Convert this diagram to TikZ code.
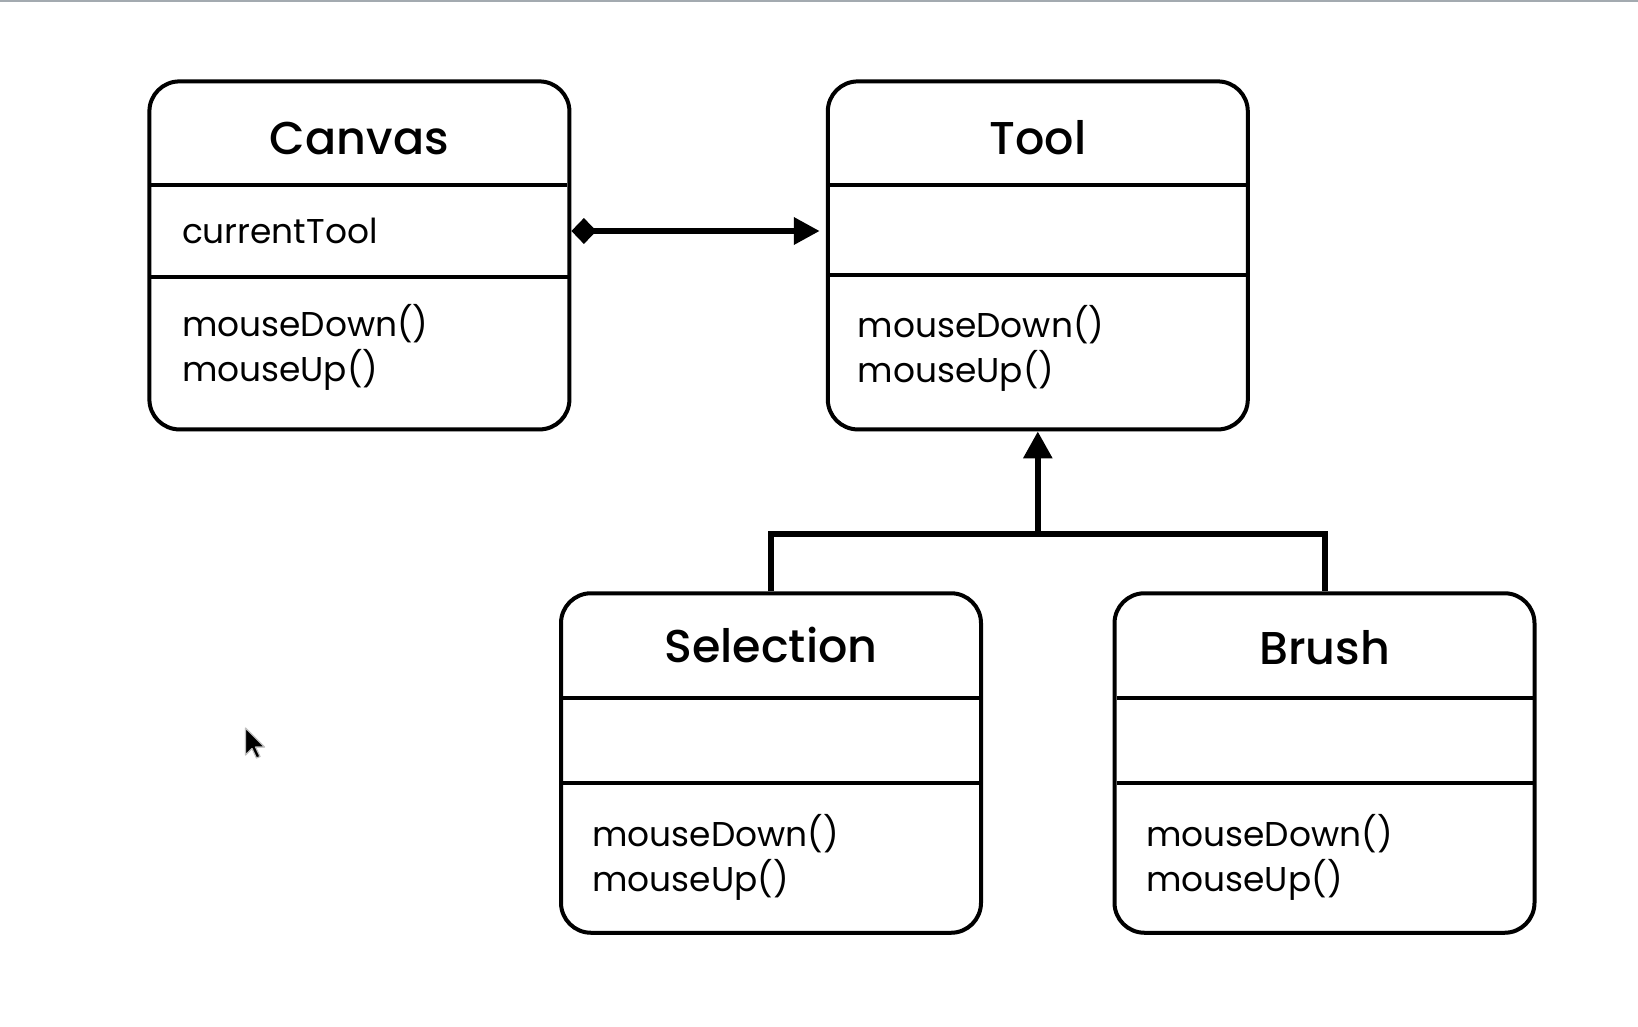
\documentclass[tikz,border=0pt]{standalone}
\usepackage{fontspec}
\setmainfont{Poppins}
\newfontfamily\titlefont{Poppins Medium}
\usetikzlibrary{arrows.meta,shadows}
\tikzset{
  umlbox/.style={draw=black, line width=4pt, rounded corners=30pt, fill=white,
    minimum width=420pt, inner sep=0pt,
    drop shadow={shadow xshift=1.2pt, shadow yshift=-1.8pt, opacity=0.3, fill=black}},
  sepline/.style={line width=3.6pt, draw=black},
  titletext/.style={font=\titlefont\fontsize{46pt}{50pt}\selectfont, inner sep=0pt, anchor=base},
  membertext/.style={font=\fontsize{34.4pt}{45pt}\selectfont, inner sep=0pt, anchor=west, align=left},
  conn/.style={line width=6.5pt, draw=black},
}
\begin{document}
\begin{tikzpicture}[x=1pt, y=-1pt]
\useasboundingbox (0,0) rectangle (1638,1026);
\fill[white] (0,0) rectangle (1638,1026);
\draw[line width=2.2pt, draw={rgb,255:red,163;green,170;blue,176}] (0,1) -- (1638,1);

% boxes
\node[umlbox, minimum height=348pt] (canvas) at (359.4,255.4) {};
\node[umlbox, minimum height=348pt] (tool) at (1037.8,255.4) {};
\node[umlbox, minimum height=339.5pt] (selection) at (771,763) {};
\node[umlbox, minimum height=339.5pt] (brush) at (1324.5,763) {};

% separators
\draw[sepline] ([xshift=4pt]canvas.west |- 0,185) -- ([xshift=-4pt]canvas.east |- 0,185);
\draw[sepline] ([xshift=1pt]canvas.west |- 0,277) -- ([xshift=-1pt]canvas.east |- 0,277);
\draw[sepline] ([xshift=1pt]tool.west |- 0,185) -- ([xshift=-3pt]tool.east |- 0,185);
\draw[sepline] ([xshift=1pt]tool.west |- 0,275) -- ([xshift=-4pt]tool.east |- 0,275);
\draw[sepline] ([xshift=4pt]selection.west |- 0,698) -- ([xshift=-4pt]selection.east |- 0,698);
\draw[sepline] ([xshift=4pt]selection.west |- 0,783) -- ([xshift=-4pt]selection.east |- 0,783);
\draw[sepline] ([xshift=4pt]brush.west |- 0,698) -- ([xshift=-4pt]brush.east |- 0,698);
\draw[sepline] ([xshift=4pt]brush.west |- 0,783) -- ([xshift=-4pt]brush.east |- 0,783);

% titles
\node[titletext] (canvasT) at (359.4,154) {Canvas};
\node[titletext] (toolT) at (1037.8,154) {Tool};
\node[titletext] (selectionT) at (771,662) {Selection};
\node[titletext] (brushT) at (1324.5,664) {Brush};

% members
\node[membertext] (canvasA) at (181.8,231) {currentTool};
\node[membertext] (canvasM) at (181.8,347) {mouseDown()\\mouseUp()};
\node[membertext] (toolM) at (857.6,348) {mouseDown()\\mouseUp()};
\node[membertext] (selectionM) at (592.3,857) {mouseDown()\\mouseUp()};
\node[membertext] (brushM) at (1146,857) {mouseDown()\\mouseUp()};

% composition
\coordinate (compS) at (canvas.east |- 0,231);
\coordinate (compE) at (tool.west |- 0,231);
\draw[conn, {Diamond[length=25pt,width=26pt]}-{Triangle[length=26pt,width=26pt]}, shorten >=6pt]
  (compS) -- (compE);

% inheritance
\coordinate (junc) at (tool.south |- 0,534);
\draw[conn, line width=6pt] (selection.north) -- (selection.north |- junc) -- (brush.north |- junc) -- (brush.north);
\draw[conn, line width=6pt, -{Triangle[length=27pt,width=28pt]}] (junc) -- (tool.south);

% mouse cursor
\begin{scope}[shift={(245.5,728)}]
\draw[fill=black, draw=white!75!black, line width=1.2pt, line join=round]
  (0,0) -- (0,27) -- (6.5,20.5) -- (11,30) -- (14.5,28.5) -- (10,19) -- (19,19) -- cycle;
\end{scope}
\end{tikzpicture}
\end{document}
